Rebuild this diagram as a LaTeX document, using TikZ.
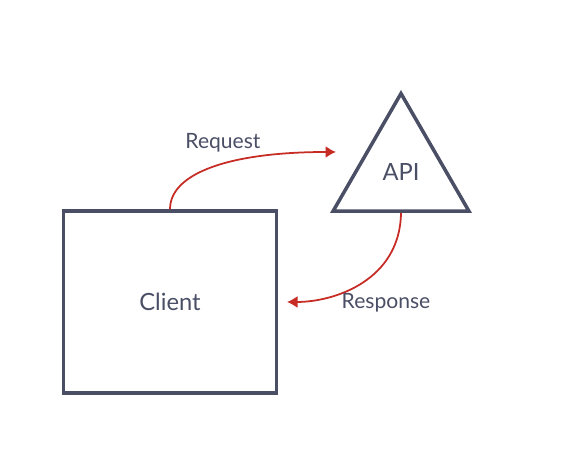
\documentclass[tikz,border=0pt]{standalone}
\usepackage{fontspec}
\setmainfont{Lato}
\usetikzlibrary{arrows.meta,shapes.geometric}
\definecolor{slate}{HTML}{4A4F66}
\definecolor{callred}{HTML}{C62B24}
\begin{document}
\begin{tikzpicture}[x=0.02cm, y=0.02cm,
		shapeline/.style={draw=slate, line width=2pt, text=slate},
		call/.style={draw=callred, line width=1pt, -{Latex[length=2.1mm,width=2.4mm]}},
		calllabel/.style={text=slate, font=\fontsize{12}{14}\selectfont}]
		\useasboundingbox (0,0) rectangle (567,465);
		\node[shapeline, rectangle, minimum width=4.26cm, minimum height=3.64cm, font=\fontsize{13.5}{16}\selectfont] (client) at (170,163) {Client};
		\node[shapeline, regular polygon, regular polygon sides=3, minimum size=3.14cm, inner sep=0pt] (api) at (401,293) {};
		\node[text=slate, font=\fontsize{13.5}{16}\selectfont] (apilabel) at (401,293) {API};
		\coordinate (reqend) at (336,313);
		\coordinate (resend) at (287,163);
		\draw[call] (client.north) .. controls (170,292) and (230,313) .. (reqend);
		\draw[call] (api.south) .. controls (400,185) and (335,163) .. (resend);
		\node[calllabel] (reqlabel) at (223,322) {Request};
		\node[calllabel] (reslabel) at (386,162) {Response};
		\end{tikzpicture}
\end{document}
